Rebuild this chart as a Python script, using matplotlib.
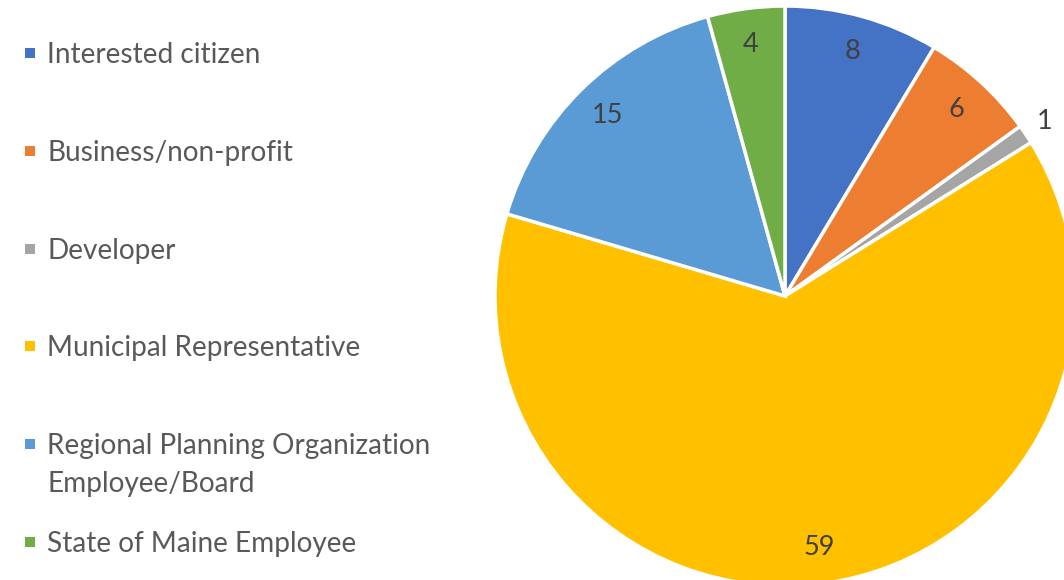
import numpy as np
from matplotlib import pyplot as plt
from matplotlib.patches import Rectangle

categories = [
    "Interested citizen",
    "Business/non-profit",
    "Developer",
    "Municipal Representative",
    "Regional Planning Organization\nEmployee/Board",
    "State of Maine Employee",
]
counts = [8, 6, 1, 59, 15, 4]
colors = ["#4472C4", "#ED7D31", "#A5A5A5", "#FFC000", "#5B9BD5", "#70AD47"]

W, H = 1064, 580
plt.rcParams["font.family"] = ["Lato", "DejaVu Sans"]

fig = plt.figure(figsize=(W / 100, H / 100), dpi=100)
ax = fig.add_axes([0, 0, 1, 1])

# pie in pixel coordinates (y measured from bottom)
cx, cy, r = 785, H - 296, 290
wedges, _ = ax.pie(
    counts,
    colors=colors,
    startangle=90,
    counterclock=False,
    center=(cx, cy),
    radius=r,
    wedgeprops=dict(edgecolor="white", linewidth=2.5),
)

total = sum(counts)
for w, n in zip(wedges, counts):
    mid = np.deg2rad((w.theta1 + w.theta2) / 2)
    dist = 0.875 if n / total > 0.02 else 1.08
    ax.text(cx + dist * r * np.cos(mid), cy + dist * r * np.sin(mid), str(n),
            ha="center", va="center", fontsize=19.5, color="#404040")

# legend, one slot per category
y0, step = 53, 97.8
for i, (lab, c) in enumerate(zip(categories, colors)):
    y = H - (y0 + i * step)
    ax.add_patch(Rectangle((25, y - 5), 10, 10, facecolor=c, edgecolor="none"))
    ax.text(47, y + 11, lab, ha="left", va="top", fontsize=20.2, color="#595959",
            linespacing=1.55)

ax.set_xlim(0, W)
ax.set_ylim(0, H)
ax.set_aspect("auto")
ax.axis("off")
plt.savefig("out.png", dpi=100)
